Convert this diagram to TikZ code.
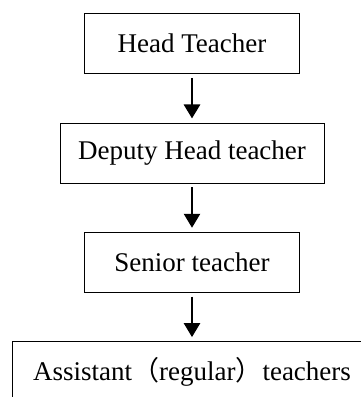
\documentclass[tikz,border=0pt]{standalone}
\usepackage{fontspec}
\setmainfont{Liberation Serif}
\newfontfamily\cjkfont{Noto Sans CJK SC}
\usetikzlibrary{arrows.meta,positioning}

\begin{document}
\begin{tikzpicture}
    [auto, x=1pt, y=1pt,
    block/.style={rectangle, draw=black, line width=0.8pt,
    align=center, inner sep=0pt, minimum height=60pt,
    font=\fontsize{27}{32}\selectfont},
    line/.style={draw, line width=2.6pt, shorten >=4pt, shorten <=4pt,
    -{Triangle[length=14pt,width=16pt]}}]

    \useasboundingbox (0,0) rectangle (361,397);
    \clip (0,0) rectangle (361,397);

    \matrix (chart) [row sep=48.5pt, anchor=north, inner sep=0pt] at (192,384)
    {
        \node [block, minimum width=215pt] (head) {Head Teacher}; \\

        \node [block, minimum width=264pt] (deputy) {Deputy Head teacher}; \\

        \node [block, minimum width=215pt] (senior) {Senior teacher}; \\

        \node [block, minimum width=360pt] (assistant)
            {Assistant{\cjkfont （}regular{\cjkfont ）}teachers}; \\
    };
    \begin{scope}[every path/.style=line]
        \path (head) -- (deputy);
        \path (deputy) -- (senior);
        \path (senior) -- (assistant);
    \end{scope}
\end{tikzpicture}
\end{document}
